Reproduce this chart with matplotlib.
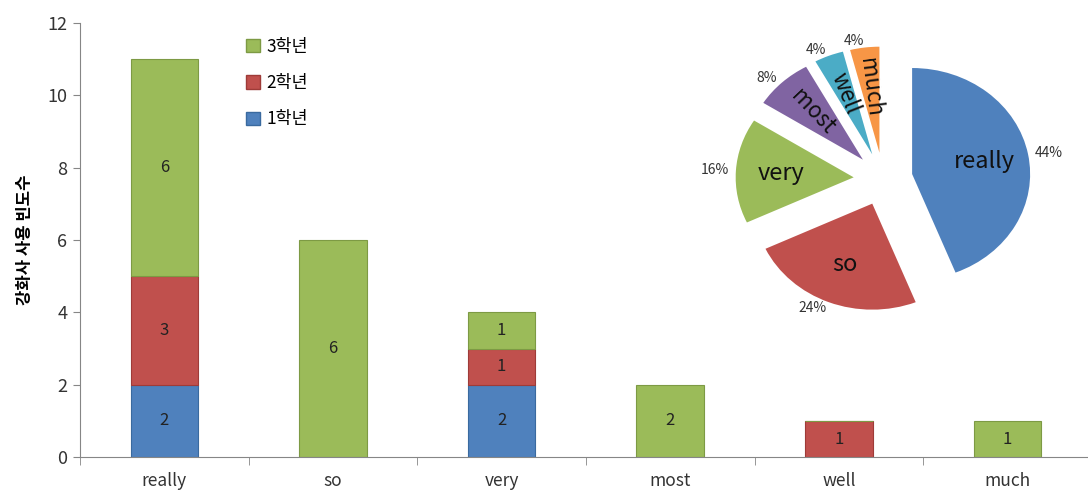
import numpy as np
import matplotlib
matplotlib.use('Agg')
import matplotlib.pyplot as plt
from matplotlib.patches import Patch

plt.rcParams['font.family'] = ['Noto Sans CJK KR', 'DejaVu Sans']

cats = ['really', 'so', 'very', 'most', 'well', 'much']
grade1 = [2, 0, 2, 0, 0, 0]
grade2 = [3, 0, 1, 0, 1, 0]
grade3 = [6, 6, 1, 2, 0, 1]
series_names = ['1학년', '2학년', '3학년']
ylabel = '강화사 사용 빈도수'

c_blue, c_red, c_green = '#4F81BD', '#C0504D', '#9BBB59'
e_blue, e_red, e_green = '#3A6A9F', '#9E3B38', '#7D9A44'
pie_colors = [c_blue, c_red, c_green, '#8064A2', '#4BACC6', '#F79646']

fig = plt.figure(figsize=(10.88, 4.91), dpi=100)
ax = fig.add_axes([0.0735, 0.069, 0.93, 0.884])

x = np.arange(len(cats))
g1 = np.array(grade1); g2 = np.array(grade2); g3 = np.array(grade3)
bars = [
    ax.bar(x, g1, 0.4, color=c_blue, edgecolor=e_blue, linewidth=0.8),
    ax.bar(x, g2, 0.4, bottom=g1, color=c_red, edgecolor=e_red, linewidth=0.8),
    ax.bar(x, g3, 0.4, bottom=g1 + g2, color=c_green, edgecolor=e_green, linewidth=0.8),
]
for b, vals in zip(bars, [g1, g2, g3]):
    labs = [str(v) if v > 0 else '' for v in vals]
    ax.bar_label(b, labels=labs, label_type='center', fontsize=12, color='#222222')

ax.set_xlim(-0.5, len(cats) - 0.5)
ax.set_ylim(0, 12)
ax.set_yticks(range(0, 13, 2))
ax.set_xticks(x)
ax.set_xticklabels(cats)
ax.set_xticks(np.arange(-0.5, len(cats), 1), minor=True)
ax.tick_params(axis='x', which='major', length=0, pad=11, labelsize=12.5, labelcolor='#333333')
ax.tick_params(axis='x', which='minor', length=6, direction='out', color='#868686')
ax.tick_params(axis='y', length=5, color='#868686', labelsize=13, labelcolor='#333333', pad=4)
for s in ['top', 'right']:
    ax.spines[s].set_visible(False)
for s in ['left', 'bottom']:
    ax.spines[s].set_color('#868686')
ax.set_ylabel(ylabel, fontsize=12, fontweight='bold', labelpad=10)

handles = [Patch(facecolor=c_green, edgecolor=e_green),
           Patch(facecolor=c_red, edgecolor=e_red),
           Patch(facecolor=c_blue, edgecolor=e_blue)]
fig.legend(handles, series_names[::-1], loc='upper left', bbox_to_anchor=(0.212, 0.955),
           frameon=False, fontsize=12.5, handlelength=0.8, handleheight=0.8,
           labelspacing=1.05, handletextpad=0.35)

# pie of totals
totals = g1 + g2 + g3
pct_labels = ['%d%%' % round(v * 100 / totals.sum()) for v in totals]
names = iter(cats)
pax = fig.add_axes([0.649, 0.3116, 0.3254, 0.6477])
wedges, texts, autotexts = pax.pie(totals, colors=pie_colors, startangle=90, counterclock=False,
                                   explode=[0.25] * len(cats), labels=pct_labels, labeldistance=1.06,
                                   autopct=lambda p: next(names), pctdistance=0.62,
                                   textprops={'fontsize': 10, 'color': '#333333'})
for w, t in zip(wedges, autotexts):
    t.set_fontsize(17)
    t.set_color('#111111')
for w, t in list(zip(wedges, autotexts))[3:]:
    t.set_rotation((w.theta1 + w.theta2) / 2 - 180)
    t.set_fontsize(16)
pax.set_aspect('auto')
pax.set_xlim(-1.5, 1.5)
pax.set_ylim(-1.5, 1.5)

fig.savefig('out.png', dpi=100)
